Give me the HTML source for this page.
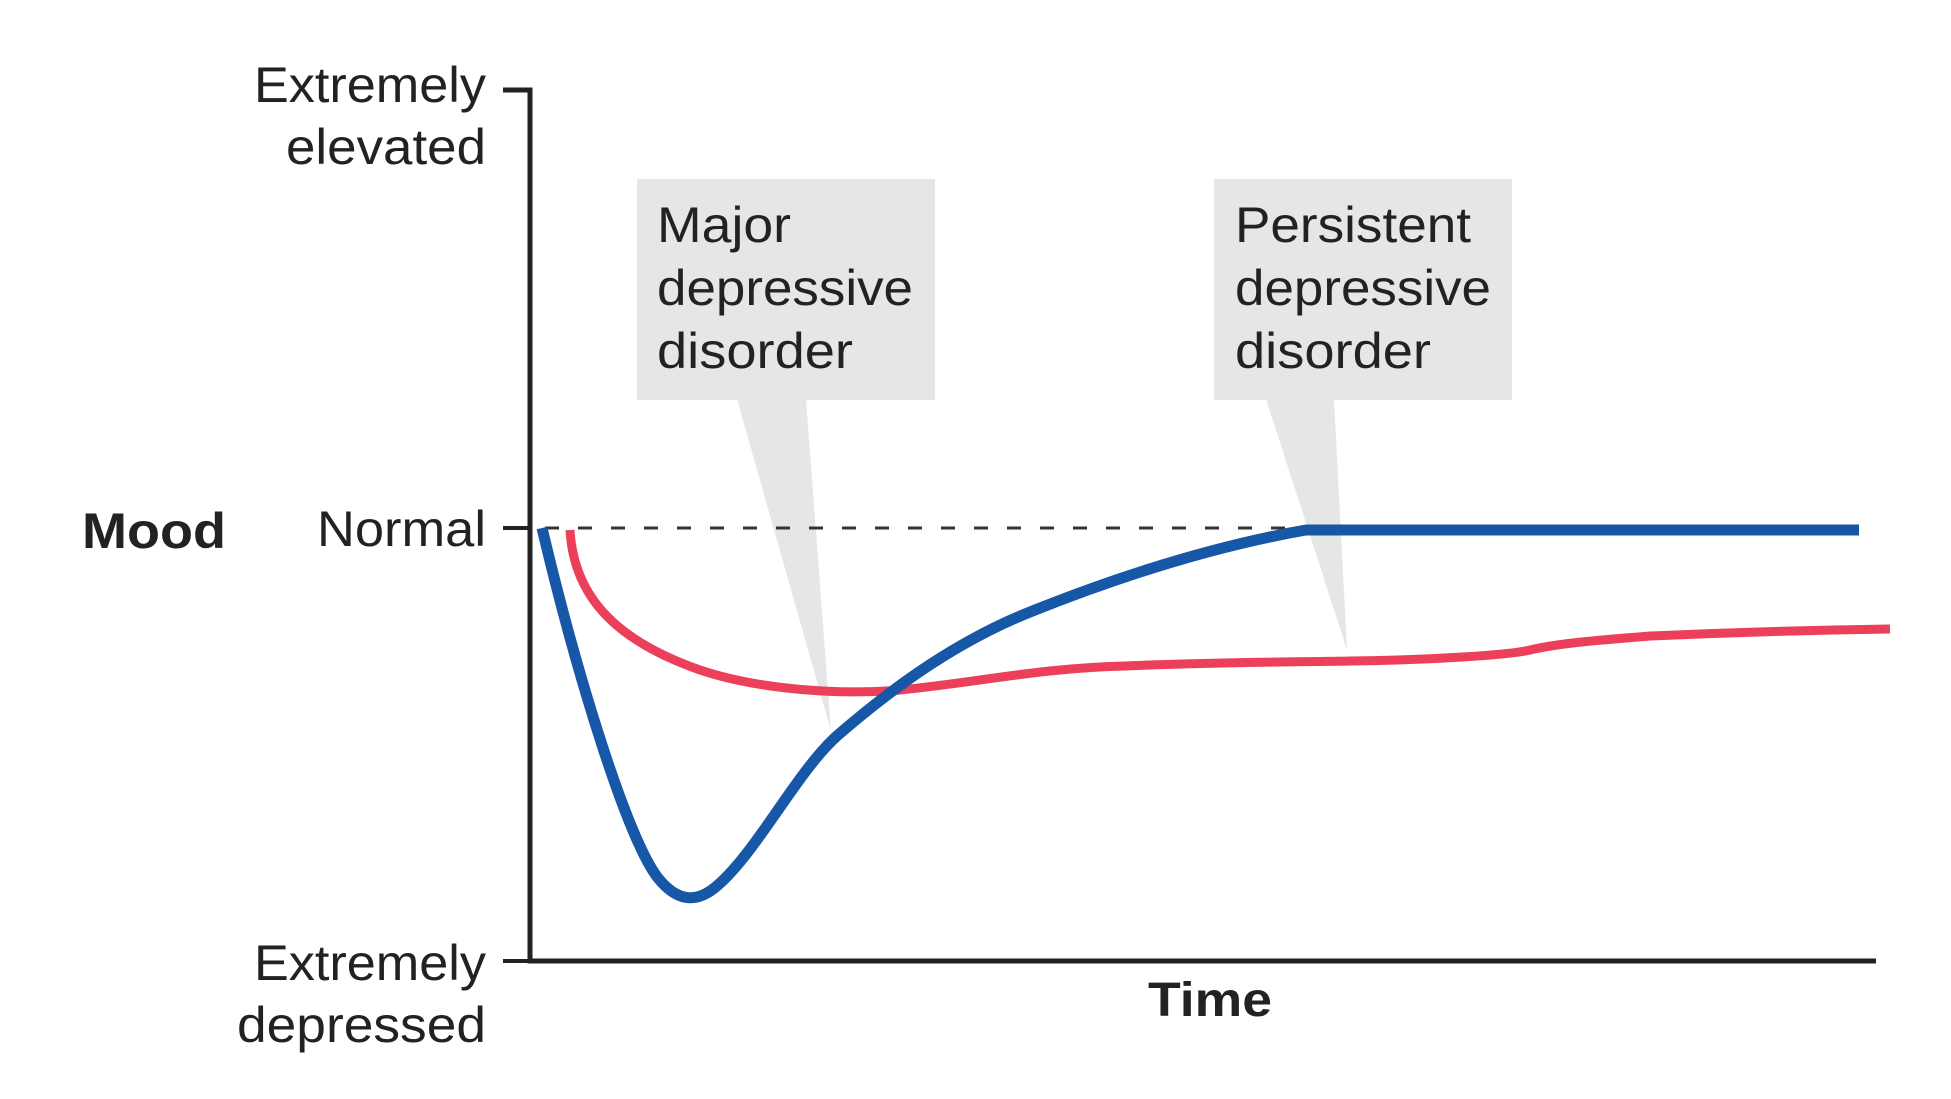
<!DOCTYPE html>
<html><head><meta charset="utf-8"><style>
html,body{margin:0;padding:0;background:#fff;}
svg{display:block;}
text{font-family:"Liberation Sans",Arial,sans-serif;fill:#222;}
</style></head><body>
<svg width="1951" height="1099" viewBox="0 0 1951 1099" xmlns="http://www.w3.org/2000/svg">
<rect x="637" y="179" width="298" height="221" fill="#e6e6e6"/>
<polygon points="737,399 806,399 831,731" fill="#e6e6e6"/>
<rect x="1214" y="179" width="298" height="221" fill="#e6e6e6"/>
<polygon points="1266,399 1334,399 1347,650" fill="#e6e6e6"/>
<g font-size="50">
<text x="657" y="242" textLength="134" lengthAdjust="spacingAndGlyphs">Major</text>
<text x="657" y="305" textLength="256" lengthAdjust="spacingAndGlyphs">depressive</text>
<text x="657" y="368" textLength="196" lengthAdjust="spacingAndGlyphs">disorder</text>
<text x="1235" y="242" textLength="236" lengthAdjust="spacingAndGlyphs">Persistent</text>
<text x="1235" y="305" textLength="256" lengthAdjust="spacingAndGlyphs">depressive</text>
<text x="1235" y="368" textLength="196" lengthAdjust="spacingAndGlyphs">disorder</text>
</g>
<path d="M503,90 H530 V961 H1876" fill="none" stroke="#222" stroke-width="5"/>
<line x1="503" y1="528" x2="530" y2="528" stroke="#222" stroke-width="4"/>
<line x1="503" y1="961" x2="530" y2="961" stroke="#222" stroke-width="4"/>
<line x1="545" y1="528" x2="1300" y2="528" stroke="#333" stroke-width="3" stroke-dasharray="14,19"/>
<g font-size="50" text-anchor="end">
<text x="486" y="102" textLength="232" lengthAdjust="spacingAndGlyphs">Extremely</text>
<text x="486" y="164" textLength="200" lengthAdjust="spacingAndGlyphs">elevated</text>
<text x="486" y="546" textLength="169" lengthAdjust="spacingAndGlyphs">Normal</text>
<text x="486" y="980" textLength="232" lengthAdjust="spacingAndGlyphs">Extremely</text>
<text x="486" y="1042" textLength="249" lengthAdjust="spacingAndGlyphs">depressed</text>
</g>
<text x="82" y="548" font-size="50" font-weight="bold" textLength="144" lengthAdjust="spacingAndGlyphs">Mood</text>
<text x="1210" y="1016" font-size="48" font-weight="bold" text-anchor="middle" textLength="124" lengthAdjust="spacingAndGlyphs">Time</text>
<path d="M570,530 C574,600 620,642 700,670 C760,690 840,695 900,690 C980,682 1040,668 1125,666 C1220,662 1300,662 1350,661 C1430,660 1510,655 1530,650 C1560,643 1600,640 1650,636 C1740,632 1820,630 1890,629" fill="none" stroke="#ec3f5a" stroke-width="9"/>
<path d="M542,528 C578,680 628,840 658,878 C678,903 698,903 718,885 C758,850 798,770 838,735 C898,683 960,640 1030,612 C1130,572 1220,545 1306,530 L1859,530" fill="none" stroke="#1757a7" stroke-width="11" stroke-linejoin="round"/>
</svg>
</body></html>
